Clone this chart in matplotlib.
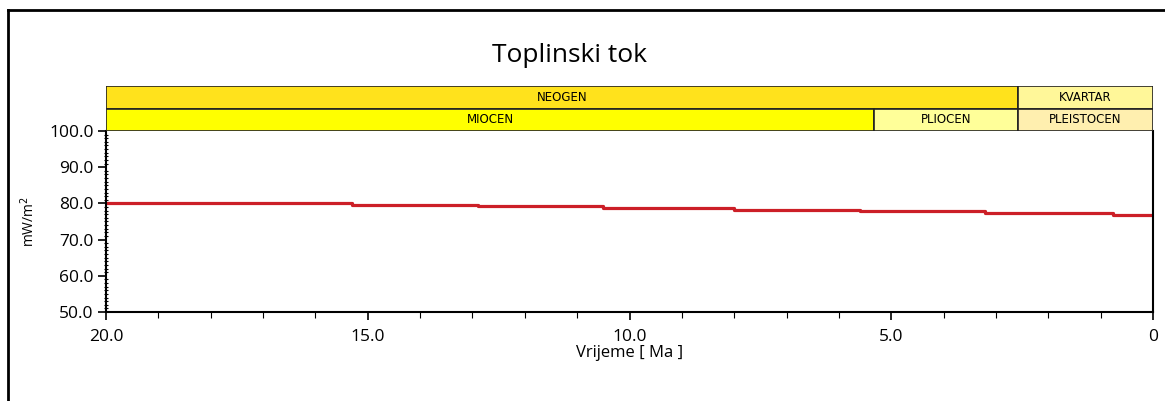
import matplotlib
matplotlib.use("Agg")
import matplotlib.pyplot as plt
from matplotlib.patches import Rectangle
from matplotlib.lines import Line2D
from matplotlib.ticker import MultipleLocator

plt.rcParams["font.family"] = ["Open Sans", "DejaVu Sans"]

# heat flow history (step function), time in Ma
step_ages = [20.0, 15.3, 12.9, 10.5, 8.0, 5.6, 3.2, 0.76, 0.0]
heat_flow = [80.0, 79.6, 79.2, 78.7, 78.3, 77.8, 77.4, 76.9]

# stratigraphy rows
period_names = ["NEOGEN", "KVARTAR"]
period_start = [20.0, 2.58]
period_end = [2.58, 0.0]
period_colors = ["#FFE21C", "#FFF799"]

epoch_names = ["MIOCEN", "PLIOCEN", "PLEISTOCEN"]
epoch_start = [20.0, 5.33, 2.58]
epoch_end = [5.33, 2.58, 0.0]
epoch_colors = ["#FFFF00", "#FFFF99", "#FFEFAF"]

x_ticks = [20.0, 15.0, 10.0, 5.0, 0.0]
x_labels = ["20.0", "15.0", "10.0", "5.0", "0"]

fig = plt.figure(figsize=(11.65, 4.01), dpi=100)

# outer frame (left and top lines only)
fig.add_artist(Line2D([8 / 1165, 8 / 1165], [0, 1 - 10 / 401], color="black", lw=2.0))
fig.add_artist(Line2D([8 / 1165, 1], [1 - 10 / 401, 1 - 10 / 401], color="black", lw=2.0))

fig.text(570 / 1165, 1 - 55 / 401, "Toplinski tok", ha="center", va="center", fontsize=19)

ax = fig.add_axes([106 / 1165, 1 - 312 / 401, 1047 / 1165, 181 / 401])
ax.plot(step_ages, heat_flow + [heat_flow[-1]], drawstyle="steps-post", color="#CC1F27", lw=2.3)
ax.set_xlim(20, 0)
ax.set_ylim(50, 100)
ax.set_xticks(x_ticks)
ax.set_xticklabels(x_labels)
ax.xaxis.set_minor_locator(MultipleLocator(1))
ax.yaxis.set_major_locator(MultipleLocator(10))
ax.yaxis.set_minor_locator(MultipleLocator(1))
ax.yaxis.set_major_formatter(plt.FormatStrFormatter("%.1f"))
ax.tick_params(axis="both", which="major", labelsize=12.5, length=6, width=1.2)
ax.tick_params(axis="y", which="minor", length=3, width=0.8, direction="inout")
ax.tick_params(axis="x", which="minor", length=4, width=0.8)
ax.tick_params(axis="x", which="major", pad=6)
ax.tick_params(axis="y", which="major", pad=3)
ax.spines["top"].set_visible(False)
for side in ["left", "bottom", "right"]:
    ax.spines[side].set_linewidth(1.5)
ax.set_xlabel("Vrijeme [ Ma ]", fontsize=12, labelpad=0)
ax.set_ylabel("mW/m$^{2}$", fontsize=10, labelpad=8)

# stratigraphic bar above the plot
sax = fig.add_axes([106 / 1165, 1 - 131 / 401, 1047 / 1165, 45 / 401])
sax.set_xlim(20, 0)
sax.set_ylim(0, 2)
sax.axis("off")
for name, a, b, c in zip(period_names, period_start, period_end, period_colors):
    sax.add_patch(Rectangle((a, 1), b - a, 1, facecolor=c, edgecolor="#222222", lw=1.2))
    sax.text((a + b) / 2, 1.5, name, ha="center", va="center", fontsize=8.5,
             family=["Liberation Sans Narrow", "DejaVu Sans"])
for name, a, b, c in zip(epoch_names, epoch_start, epoch_end, epoch_colors):
    sax.add_patch(Rectangle((a, 0), b - a, 1, facecolor=c, edgecolor="#222222", lw=1.2))
    sax.text((a + b) / 2, 0.5, name, ha="center", va="center", fontsize=8.5,
             family=["Liberation Sans Narrow", "DejaVu Sans"])

fig.savefig("out.png", dpi=100)
